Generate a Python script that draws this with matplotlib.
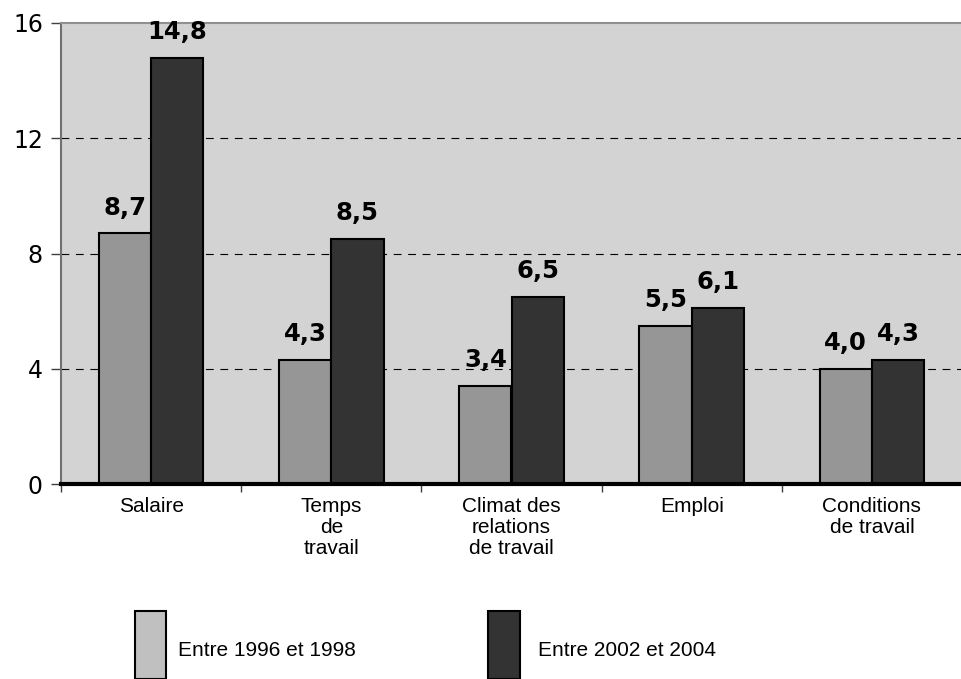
import matplotlib
matplotlib.use("Agg")
import matplotlib.pyplot as plt
import numpy as np
from matplotlib.patches import Rectangle

# Data
categories = ["Salaire", "Temps\nde\ntravail", "Climat des\nrelations\nde travail",
              "Emploi", "Conditions\nde travail"]
series_names = ["Entre 1996 et 1998", "Entre 2002 et 2004"]
vals_9698 = [8.7, 4.3, 3.4, 5.5, 4.0]
vals_0204 = [14.8, 8.5, 6.5, 6.1, 4.3]
y_ticks = [0, 4, 8, 12, 16]

light = "#969696"
dark = "#333333"
legend_light = "#c0c0c0"

fig = plt.figure(figsize=(9.62, 6.79), dpi=100)
ax = fig.add_axes([61 / 962, 1 - 484 / 679, 901 / 962, (484 - 23) / 679])
ax.set_facecolor("#d3d3d3")

x = np.arange(len(categories))
w = 0.29
b1 = ax.bar(x - w / 2, vals_9698, w, color=light, edgecolor="black", linewidth=1.5, zorder=3)
b2 = ax.bar(x + w / 2, vals_0204, w, color=dark, edgecolor="black", linewidth=1.5, zorder=3)

# data labels
lab_font = dict(family="DejaVu Sans", fontweight="bold", fontsize=17.5)
for bars, vals in ((b1, vals_9698), (b2, vals_0204)):
    for r, v in zip(bars, vals):
        ax.annotate(f"{v:.1f}".replace(".", ","), (r.get_x() + r.get_width() / 2, v),
                    xytext=(0, 13.5), textcoords="offset points",
                    ha="center", va="baseline", **lab_font)

ax.set_xlim(-0.5, len(categories) - 0.5)
ax.set_ylim(0, 16)

# grid
for yv in y_ticks[1:-1]:
    ax.axhline(yv, color="black", lw=0.8, ls=(0, (7, 6)), zorder=1)

ax.set_yticks(y_ticks)
ax.set_yticklabels([str(t) for t in y_ticks], family="DejaVu Sans", fontsize=17)
ax.tick_params(axis="y", length=7, width=1, color="#404040", pad=6)

ax.set_xticks(np.arange(-0.5, len(categories) + 0.5, 1.0))
ax.set_xticklabels([])
ax.tick_params(axis="x", length=6, width=1, color="#404040")
for xi, c in zip(x, categories):
    ax.text(xi, -0.45, c, ha="center", va="top", fontsize=15,
            family="Liberation Sans", linespacing=1.15)

ax.spines["right"].set_visible(False)
ax.spines["top"].set_color("#909090")
ax.spines["top"].set_linewidth(1.5)
ax.spines["left"].set_color("#707070")
ax.spines["left"].set_linewidth(1.5)
ax.spines["bottom"].set_color("black")
ax.spines["bottom"].set_linewidth(3)
ax.spines["bottom"].set_zorder(5)

# legend (manual, tall swatches as in original)
H = 679.0
W = 962.0
for (x0, x1, tx, col, name) in ((135, 166, 178, legend_light, series_names[0]),
                                (488, 520, 538, dark, series_names[1])):
    fig.patches.append(Rectangle((x0 / W, 0), (x1 - x0) / W, (H - 611) / H,
                                 transform=fig.transFigure, facecolor=col,
                                 edgecolor="black", linewidth=1.5))
    fig.text(tx / W, 1 - 650 / H, name, ha="left", va="center", fontsize=15,
             family="Liberation Sans")

fig.savefig("out.png", dpi=100)
